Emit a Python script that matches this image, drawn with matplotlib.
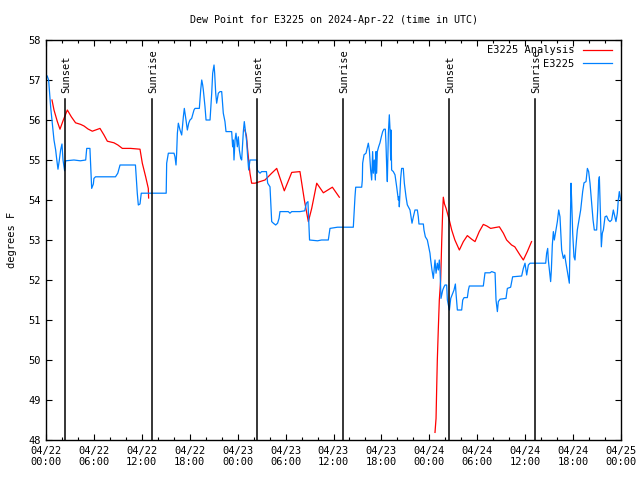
import numpy as np
import matplotlib
matplotlib.use("Agg")
import matplotlib.pyplot as plt
from matplotlib.ticker import MultipleLocator

# hours since 2024-04-22 00:00 UTC
obs_hours = [
    0.15, 0.33, 0.58, 0.79, 1.0, 1.21, 1.33, 1.5, 1.67, 1.83, 2.0, 2.13, 2.33, 2.46, 3.5, 4.3, 4.97, 5.1, 5.5,
    5.72, 5.93, 6.0, 6.2, 8.7, 8.99, 9.27, 11.2, 11.43, 11.56, 11.77, 11.93, 15.05,
    15.11, 15.32, 16.03, 16.15, 16.28, 16.36, 16.45, 16.57, 16.78, 16.99, 17.2, 17.32, 17.41, 17.53, 17.7,
    17.87, 18.03, 18.24, 18.53, 18.66, 19.2, 19.37, 19.5, 19.62, 19.7, 19.91, 20.04, 20.54, 20.75, 20.87,
    21.04, 21.12, 21.25, 21.37, 21.58, 21.79, 22.0, 22.2, 22.41, 22.54, 23.25, 23.37, 23.46, 23.54, 23.67,
    23.79, 23.96, 24.08, 24.21, 24.38, 24.5, 24.71, 24.83, 24.96, 25.13, 25.25, 25.38, 25.54, 26.38, 26.46,
    26.6, 26.8, 27.0, 27.6, 27.76, 28.05, 28.26, 28.47, 28.76, 29.0, 29.18, 29.3, 30.34, 30.55, 30.76, 31.8,
    32.4, 32.6, 32.8, 32.93, 33.0, 34.0, 34.5, 35.35, 35.56, 36.5, 38.48,
    38.55, 38.69, 38.78, 39.53, 39.61, 39.65, 39.82, 40.07, 40.36, 40.49, 40.65, 40.78, 40.9, 40.99, 41.11,
    41.24, 41.32, 41.4, 41.49, 41.65, 41.82, 41.99, 42.16, 42.32, 42.49, 42.57, 42.66, 42.74, 42.87, 42.99,
    43.08, 43.16, 43.2, 43.28, 43.49, 43.7, 43.91, 44.12, 44.2, 44.24, 44.41, 44.53, 44.74, 44.87, 45.08,
    45.24, 45.58, 45.74, 45.83, 46.0, 46.2, 46.5, 46.62, 46.7, 47.25, 47.33, 47.5, 47.75, 47.92, 48.08,
    48.17, 48.33, 48.5, 48.71, 48.84, 49.0, 49.13, 49.25,
    49.34, 49.46, 49.68, 49.84, 49.96, 50.17, 50.26, 50.51, 50.68, 50.84, 51.09, 51.26, 51.34, 51.51, 52.05,
    52.18, 52.35, 52.76, 52.89, 53.01, 54.76, 54.97, 55.6, 55.81, 56.23, 56.35, 56.52, 56.64, 56.85, 57.6,
    57.77, 58.18, 58.43, 59.56, 59.77, 59.98, 60.19, 60.4, 60.61,
    62.57, 62.69, 62.82, 62.9, 63.03, 63.19, 63.28, 63.4, 63.53, 63.65, 63.82, 64.03, 64.2, 64.36, 64.57,
    64.78, 64.95, 65.11, 65.4, 65.53, 65.74, 65.82, 65.95, 66.11, 66.24, 66.32, 66.53, 66.78, 66.95, 67.2,
    67.37, 67.62, 67.79, 67.95, 68.12, 68.33, 68.5, 68.66, 68.95, 69.08, 69.2, 69.29, 69.37, 69.54, 69.66,
    69.79, 70.0, 70.2, 70.41, 70.62, 70.83, 71.04, 71.24, 71.37, 71.54, 71.66, 71.79, 71.95,
]
obs_dewpt = [
    57.1, 57.0, 56.33, 55.92, 55.5, 55.25, 55.04, 54.77, 55.0, 55.25, 55.4, 55.0, 54.73, 54.98, 55.0, 54.98, 55.0, 55.29, 55.29,
    54.29, 54.4, 54.54, 54.58, 54.58, 54.67, 54.875, 54.875, 54.17, 53.875, 53.9, 54.17, 54.17,
    54.92, 55.17, 55.17, 55.08, 54.875, 55.17, 55.67, 55.92, 55.75, 55.625, 56.08, 56.29, 56.17, 56.0, 55.75,
    55.92, 56.0, 56.04, 56.25, 56.29, 56.29, 56.75, 57.0, 56.875, 56.75, 56.33, 56.0, 56.0, 56.67, 57.17,
    57.375, 57.17, 56.67, 56.42, 56.67, 56.71, 56.71, 56.17, 55.96, 55.71, 55.71, 55.33, 55.5, 55.0, 55.5,
    55.67, 55.33, 55.58, 55.25, 55.04, 55.0, 55.71, 55.96, 55.75, 55.46, 55.08, 54.75, 55.0, 55.0, 54.75,
    54.71, 54.67, 54.71, 54.71, 54.42, 54.33, 53.46, 53.42, 53.375, 53.42, 53.54, 53.71, 53.71, 53.67, 53.71, 53.71,
    53.73, 53.92, 53.96, 53.29, 53.0, 52.98, 53.0, 53.0, 53.29, 53.32, 53.32,
    53.58, 54.08, 54.32, 54.32, 54.5, 54.92, 55.13, 55.17, 55.42, 55.25, 54.75, 54.5, 55.21, 54.67, 55.0,
    54.5, 55.21, 54.67, 55.21, 55.33, 55.43, 55.58, 55.71, 55.77, 55.77, 55.42, 54.83, 54.46, 55.67, 56.13,
    55.75, 55.0, 55.75, 54.75, 54.71, 54.63, 54.33, 54.0, 54.08, 53.83, 54.54, 54.79, 54.79, 54.42, 54.08,
    53.88, 53.75, 53.54, 53.42, 53.58, 53.75, 53.75, 53.58, 53.4, 53.4, 53.25, 53.08, 53.0, 52.83, 52.67,
    52.5, 52.25, 52.04, 52.5, 52.17, 52.42, 52.25, 52.5,
    52.25, 51.54, 51.75, 51.83, 51.875, 51.875, 51.5, 51.25, 51.54, 51.625, 51.75, 51.9, 51.67, 51.25, 51.25,
    51.5, 51.56, 51.56, 51.75, 51.85, 51.85, 52.18, 52.18, 52.21, 52.18, 51.5, 51.21, 51.46, 51.52, 51.54,
    51.79, 51.82, 52.08, 52.1, 52.29, 52.42, 52.125, 52.375, 52.42,
    52.42, 52.67, 52.79, 52.5, 52.25, 51.96, 52.25, 52.875, 53.21, 53.0, 53.21, 53.46, 53.75, 53.58, 52.75,
    52.54, 52.625, 52.42, 52.08, 51.92, 54.42, 54.0, 53.17, 52.58, 52.5, 52.75, 53.25, 53.54, 53.75, 54.21,
    54.43, 54.46, 54.79, 54.71, 54.42, 53.92, 53.5, 53.25, 53.25, 53.75, 54.46, 54.58, 54.0, 52.83, 53.17,
    53.25, 53.58, 53.6, 53.5, 53.46, 53.5, 53.75, 53.58, 53.46, 53.67, 54.0, 54.21, 54.0,
]

# analysis runs (nan separates the three runs)
ana_hours = [
    0.75, 1.0, 1.42, 1.75, 2.17, 2.67, 3.17, 3.7, 4.34, 4.76, 5.26, 5.8, 6.76, 7.26, 7.68, 8.51, 9.0, 9.56,
    10.6, 11.77, 12.06, 12.48, 12.81, 12.85, np.nan,
    24.9, 25.1, 25.25, 25.54, 25.75, 26.17, 27.42, 28.26, 28.89, 29.84, 30.77, 31.8, 32.35, 32.85, 33.27,
    33.9, 34.73, 35.86, 36.73, np.nan,
    48.71, 48.84, 48.92, 49.0, 49.12, 49.25, 49.42, 49.55, 49.67, 49.75, 49.9, 50.1, 50.5, 50.8, 51.2, 51.76,
    52.26, 52.76, 53.3, 53.72, 54.25, 54.76, 55.2, 55.68, 56.2, 56.77, 57.27, 57.68, 58.3, 58.7, 59.35,
    59.77, 60.27, 60.8,
]
ana_dewpt = [
    56.5, 56.25, 55.96, 55.77, 56.0, 56.25, 56.08, 55.93, 55.89, 55.85, 55.775, 55.72, 55.79, 55.625, 55.47,
    55.43, 55.375, 55.29, 55.29, 55.27, 54.92, 54.58, 54.29, 54.05, np.nan,
    55.75, 55.6, 55.25, 54.67, 54.42, 54.42, 54.5, 54.67, 54.79, 54.23, 54.69, 54.71, 54.0, 53.46, 53.79,
    54.42, 54.18, 54.32, 54.07, np.nan,
    48.19, 48.54, 49.29, 50.0, 50.75, 51.5, 52.0, 52.96, 53.71, 54.07, 53.9, 53.79, 53.5, 53.25, 53.0, 52.75,
    52.96, 53.11, 53.02, 52.96, 53.21, 53.39, 53.35, 53.29, 53.31, 53.33, 53.17, 53.0, 52.875, 52.83, 52.625,
    52.5, 52.71, 52.96,
]

sun_hours = [2.42, 13.31, 26.46, 37.23, 50.5, 61.27]
sun_labels = ["Sunset", "Sunrise", "Sunset", "Sunrise", "Sunset", "Sunrise"]

tick_hours = [0, 6, 12, 18, 24, 30, 36, 42, 48, 54, 60, 66, 72]
tick_labels = ["04/22\n00:00", "04/22\n06:00", "04/22\n12:00", "04/22\n18:00",
               "04/23\n00:00", "04/23\n06:00", "04/23\n12:00", "04/23\n18:00",
               "04/24\n00:00", "04/24\n06:00", "04/24\n12:00", "04/24\n18:00",
               "04/25\n00:00"]

plt.rcParams["font.family"] = "DejaVu Sans Mono"
plt.rcParams["font.size"] = 7.5

fig = plt.figure(figsize=(6.4, 4.8), dpi=100)
ax = fig.add_axes([46 / 640, 40 / 480, 575 / 640, 400 / 480])

ax.plot(ana_hours, ana_dewpt, color="#ff0000", lw=0.9, label="E3225 Analysis")
ax.plot(obs_hours, obs_dewpt, color="#0080ff", lw=0.9, label="E3225")

for h, lab in zip(sun_hours, sun_labels):
    ax.plot([h, h], [48, 56.52], color="black", lw=1.1)
    ax.text(h + 0.15, 56.68, lab, rotation=90, ha="center", va="bottom")

ax.set_xlim(0, 72)
ax.set_ylim(48, 58)
ax.set_xticks(tick_hours)
ax.set_xticklabels(tick_labels)
ax.xaxis.set_minor_locator(MultipleLocator(2))
ax.set_yticks(range(48, 59))
ax.tick_params(which="both", direction="in", top=True, right=True, width=0.8)
ax.tick_params(which="major", length=4, pad=4)
ax.tick_params(which="minor", length=2)
for s in ax.spines.values():
    s.set_linewidth(1.0)

ax.set_ylabel("degrees F", labelpad=8)
ax.set_title("Dew Point for E3225 on 2024-Apr-22 (time in UTC)", fontsize=7.2, pad=12)

ax.legend(loc="upper right", bbox_to_anchor=(0.993, 1.0), frameon=False, markerfirst=False,
          handlelength=2.8, handletextpad=0.8, labelspacing=0.35, borderaxespad=0.1)

fig.savefig("out.png", dpi=100)
